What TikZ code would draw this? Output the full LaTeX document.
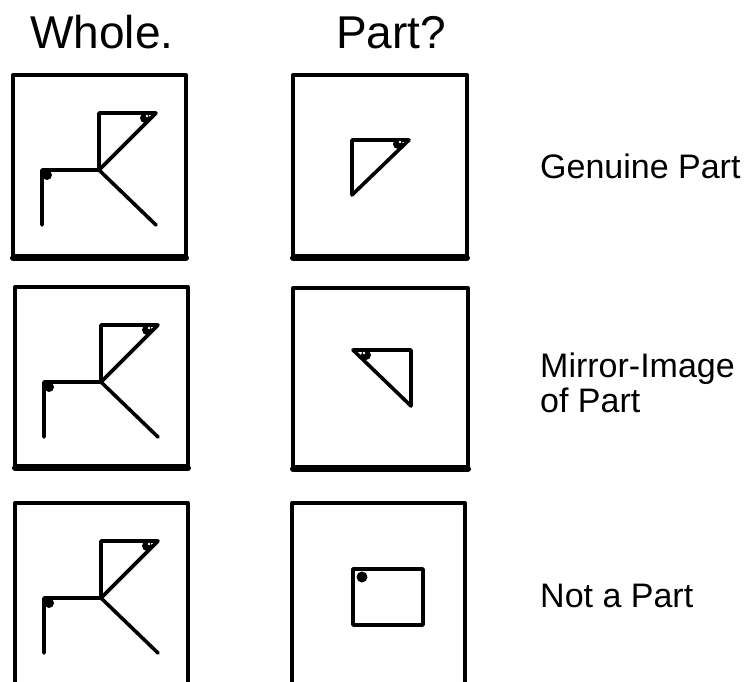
\documentclass[tikz,border=0pt]{standalone}
\usepackage{fontspec}
\setmainfont{Liberation Sans}

\begin{document}
\begin{tikzpicture}[x=1pt, y=-1pt,
    boxline/.style={line width=4pt, line join=round},
    bottomedge/.style={line width=6pt, line cap=round},
    figline/.style={line width=3.6pt, line join=round, line cap=round},
    headtext/.style={font=\fontsize{46}{50}\selectfont, inner sep=0pt, anchor=base},
    sidetext/.style={font=\fontsize{34}{35}\selectfont, inner sep=0pt, anchor=base west, align=left}]
  \useasboundingbox (0,0) rectangle (748,681);
  % headings
  \node[headtext] (whole) at (102,48) {Whole.};
  \node[headtext] (part) at (391,48) {Part?};
  % left column, the same figure three times
  \foreach \bx/\by/\bh in {13/75/181, 15/287/179, 15/503/181} {
    \draw[boxline] (\bx,\by) rectangle ++(173,\bh);
    \draw[bottomedge] (\bx,\by+\bh+2) -- ++(173,0);
    \begin{scope}[shift={(\bx,\by)}]
      \draw[figline] (29,150) -- (29,95) -- (86,95) -- (86,38) -- (143,38) -- (86,95) -- (143,150);
      \fill (34,100) circle (5);
      \fill (132,43) circle (5);
      \fill[white] (134,41) circle (1.3);
    \end{scope}
  }
  % middle column
  \draw[boxline] (293,75) rectangle (467,256);
  \draw[bottomedge] (293,258) -- (467,258);
  \draw[figline] (352,140) -- (409,140) -- (352,195) -- cycle;
  \fill (398,144) circle (5);
  \fill[white] (400,142) circle (1.3);

  \draw[boxline] (293,288) rectangle (468,467);
  \draw[bottomedge] (293,469) -- (468,469);
  \draw[figline] (353,350) -- (411,350) -- (411,406) -- cycle;
  \fill (366,355) circle (5);
  \fill[white] (364,353) circle (1.3);

  \draw[boxline] (292,503) rectangle (465,684);
  \draw[figline] (353,569) rectangle (423,625);
  \fill (362,577) circle (5.5);
  % right column
  \node[sidetext] (genuine) at (540,178) {Genuine Part};
  \node[sidetext] (mirror) at (540,412) {Mirror-Image\\of Part};
  \node[sidetext] (notpart) at (540,607) {Not a Part};
\end{tikzpicture}
\end{document}
